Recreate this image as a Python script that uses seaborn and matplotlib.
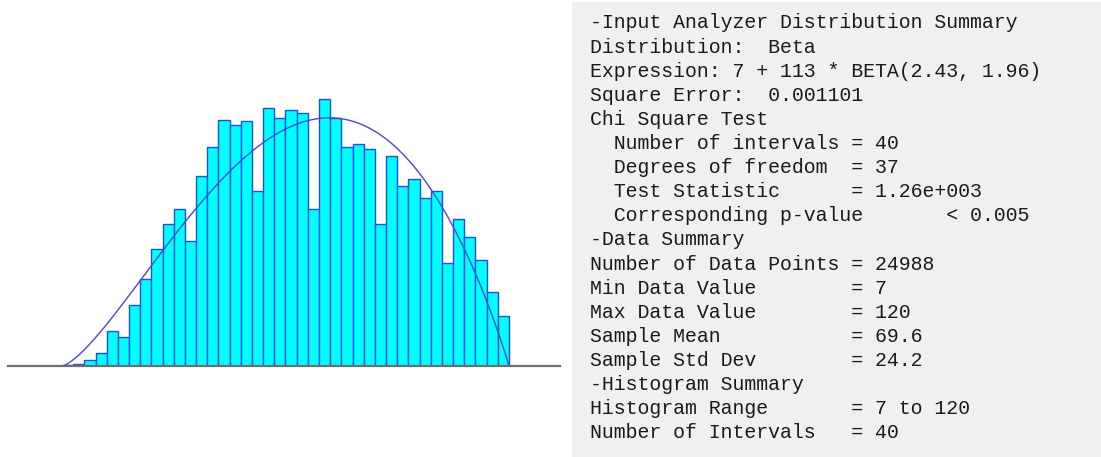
import math
import numpy as np
import pandas as pd
import matplotlib
matplotlib.use("Agg")
import matplotlib.pyplot as plt
from matplotlib.patches import Rectangle
import seaborn as sns

# ---- data ----
hist_min = 7
hist_max = 120
n_intervals = 40
# relative frequency per interval
rel_freq = [0.0002, 0.0004, 0.0010, 0.0021, 0.0057, 0.0047, 0.0099, 0.0140, 0.0189, 0.0230,
            0.0254, 0.0202, 0.0307, 0.0353, 0.0398, 0.0390, 0.0395, 0.0283, 0.0417, 0.0401,
            0.0413, 0.0408, 0.0253, 0.0431, 0.0401, 0.0353, 0.0359, 0.0351, 0.0230, 0.0339,
            0.0290, 0.0302, 0.0272, 0.0283, 0.0167, 0.0237, 0.0208, 0.0171, 0.0119, 0.0080]
beta_a = 2.43
beta_b = 1.96

summary_lines = [
    "-Input Analyzer Distribution Summary",
    "Distribution:  Beta",
    "Expression: 7 + 113 * BETA(2.43, 1.96)",
    "Square Error:  0.001101",
    "Chi Square Test",
    "  Number of intervals = 40",
    "  Degrees of freedom  = 37",
    "  Test Statistic      = 1.26e+003",
    "  Corresponding p-value       < 0.005",
    "-Data Summary",
    "Number of Data Points = 24988",
    "Min Data Value        = 7",
    "Max Data Value        = 120",
    "Sample Mean           = 69.6",
    "Sample Std Dev        = 24.2",
    "-Histogram Summary",
    "Histogram Range       = 7 to 120",
    "Number of Intervals   = 40",
]

# ---- figure ----
W, H = 1101, 457
fig = plt.figure(figsize=(W / 100, H / 100), dpi=100)
fig.patch.set_facecolor("white")

# grey summary panel
fig.patches.append(Rectangle((572 / W, 0), (W - 572) / W, (H - 2) / H,
                             transform=fig.transFigure, facecolor="#f0f0f0",
                             edgecolor="none", zorder=0))

ax = fig.add_axes([8 / W, 91 / H, 552 / W, 366 / H])
ax.set_axis_off()

width = (hist_max - hist_min) / n_intervals
centers = hist_min + width * (np.arange(n_intervals) + 0.5)
df = pd.DataFrame({"x": centers, "w": rel_freq})
sns.histplot(data=df, x="x", weights="w", bins=n_intervals,
             binrange=(hist_min, hist_max), stat="count",
             color="#00ffff", edgecolor="#1f4fe0", linewidth=1.0, alpha=1.0,
             ax=ax, zorder=2)

# fitted beta curve, scaled to the interval width
B = math.gamma(beta_a) * math.gamma(beta_b) / math.gamma(beta_a + beta_b)
xs = np.linspace(hist_min, hist_max, 500)
u = (xs - hist_min) / (hist_max - hist_min)
pdf = u ** (beta_a - 1) * (1 - u) ** (beta_b - 1) / B / n_intervals
sns.lineplot(x=xs, y=pdf, color="#4848d8", linewidth=1.0, ax=ax, zorder=3)

ax.axhline(0, color="#6e6e6e", linewidth=1.6, clip_on=False, zorder=4)
ax.set_xlim(-6.65, 132.9)
ax.set_ylim(0, 366 / 6192)
ax.set_axis_off()

# summary text
y0, dy = 23, 24.1
for i, line in enumerate(summary_lines):
    fig.text(590 / W, 1 - (y0 + i * dy) / H, line, family="Liberation Mono",
             fontsize=14.3, color="#1a1a1a", va="center", ha="left")

fig.savefig("out.png", dpi=100)
